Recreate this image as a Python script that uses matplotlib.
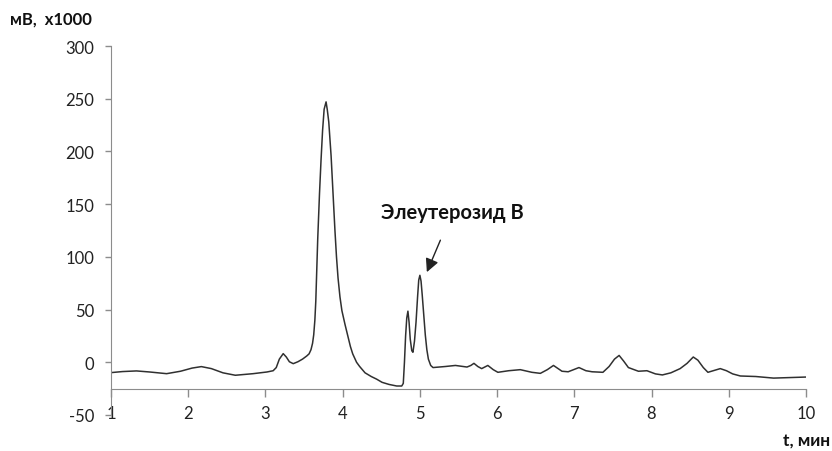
import matplotlib
matplotlib.use("Agg")
import matplotlib.pyplot as plt

plt.rcParams['font.family'] = ['Lato', 'DejaVu Sans']
plt.rcParams['axes.unicode_minus'] = False

# Retention time (min) and detector signal (mV x1000)
time_min = [1.00, 1.15, 1.33, 1.50, 1.72, 1.90, 2.05, 2.17, 2.30, 2.45, 2.61, 2.84,
            3.02, 3.10, 3.14, 3.18, 3.23, 3.27, 3.31, 3.36, 3.42, 3.48, 3.535, 3.565,
            3.59, 3.61, 3.625, 3.64, 3.652, 3.664, 3.677, 3.70, 3.72, 3.74, 3.76,
            3.785, 3.80, 3.82, 3.85, 3.875, 3.90, 3.92, 3.94, 3.965, 3.99, 4.03, 4.07,
            4.10, 4.13, 4.18, 4.22, 4.29, 4.37, 4.44, 4.51, 4.60, 4.70, 4.765, 4.785,
            4.80, 4.815, 4.83, 4.845, 4.86, 4.875, 4.895, 4.91, 4.93, 4.95, 4.97,
            4.985, 5.00, 5.015, 5.03, 5.05, 5.07, 5.09, 5.11, 5.14, 5.17, 5.25, 5.33,
            5.46, 5.56, 5.61, 5.66, 5.70, 5.75, 5.80, 5.88, 5.95, 6.01, 6.15, 6.30,
            6.45, 6.56, 6.65, 6.73, 6.79, 6.84, 6.92, 7.06, 7.15, 7.23, 7.37, 7.45,
            7.52, 7.58, 7.64, 7.70, 7.83, 7.94, 8.05, 8.14, 8.25, 8.37, 8.46, 8.54,
            8.60, 8.67, 8.73, 8.80, 8.89, 8.97, 9.05, 9.15, 9.35, 9.58, 9.80, 10.00]
signal = [-9.8, -8.8, -8.2, -9.2, -10.8, -8.5, -5.5, -4.1, -6.0, -10.0, -12.3, -10.8,
          -9.2, -8.0, -5.0, 3.0, 8.2, 5.0, 0.5, -1.3, 0.5, 3.0, 6.0, 8.0,
          12.0, 18.0, 26.0, 40.0, 58.0, 85.0, 117.0, 160.0, 192.0, 220.0, 240.0,
          247.0, 240.0, 228.0, 196.0, 160.0, 125.0, 100.0, 80.0, 62.0, 49.0, 36.0, 24.0,
          15.0, 8.0, 0.0, -4.0, -10.0, -13.5, -16.0, -19.0, -21.0, -22.5, -22.5, -20.0,
          0.0, 25.0, 42.0, 48.5, 38.0, 22.0, 11.0, 9.5, 20.0, 38.0, 62.0,
          78.0, 82.5, 77.0, 64.0, 45.0, 26.0, 12.0, 3.0, -3.0, -5.0, -4.5, -4.0,
          -3.0, -4.0, -4.5, -3.0, -1.0, -4.0, -6.0, -3.0, -7.0, -9.5, -8.0, -7.0,
          -9.5, -10.5, -7.0, -3.0, -6.0, -8.5, -9.0, -5.0, -8.0, -9.0, -9.5, -4.0,
          3.0, 6.5, 1.0, -5.0, -8.5, -8.0, -11.0, -12.0, -10.0, -6.0, -1.0, 5.0,
          2.0, -5.0, -9.5, -8.0, -6.0, -8.0, -11.0, -13.0, -13.5, -15.0, -14.5, -14.0]

x_ticks = [1, 2, 3, 4, 5, 6, 7, 8, 9, 10]
y_ticks = [-50, 0, 50, 100, 150, 200, 250, 300]

fig = plt.figure(figsize=(8.32, 4.52), dpi=100)
ax = fig.add_axes([111/832, 36/452, 695/832, 369/452])

ax.plot(time_min, signal, color='#303030', lw=1.1, solid_joinstyle='round')

ax.set_xlim(1, 10)
ax.set_ylim(-50, 300)
ax.set_xticks(x_ticks)
ax.set_yticks(y_ticks)

axis_col = '#8c8c8c'
for s in ['top', 'right']:
    ax.spines[s].set_visible(False)
ax.spines['left'].set_color(axis_col)
ax.spines['bottom'].set_color(axis_col)
ax.spines['bottom'].set_position(('data', -25))
ax.tick_params(axis='y', direction='out', length=4, width=1, color=axis_col,
               labelsize=12, pad=8, labelcolor='#222222')
ax.tick_params(axis='x', direction='out', length=6, width=1, color=axis_col,
               labelsize=12, pad=6, labelcolor='#222222')

fig.text(10/832, 1 - 20/452, 'мВ,  x1000', fontsize=12, fontweight='bold',
         ha='left', va='center', color='#111111')
fig.text(830/832, 1 - 441/452, 't, мин', fontsize=12.5, fontweight='bold',
         ha='right', va='center', color='#111111')

ax.annotate('Элеутерозид В', xy=(5.09, 85.5), xytext=(5.42, 142.5),
            fontsize=14.5, fontweight='bold', ha='center', va='center', color='#111111',
            arrowprops=dict(arrowstyle='-|>', color='#222222', lw=1.0,
                            mutation_scale=20, shrinkA=12, shrinkB=0))

fig.savefig('out.png', dpi=100)
